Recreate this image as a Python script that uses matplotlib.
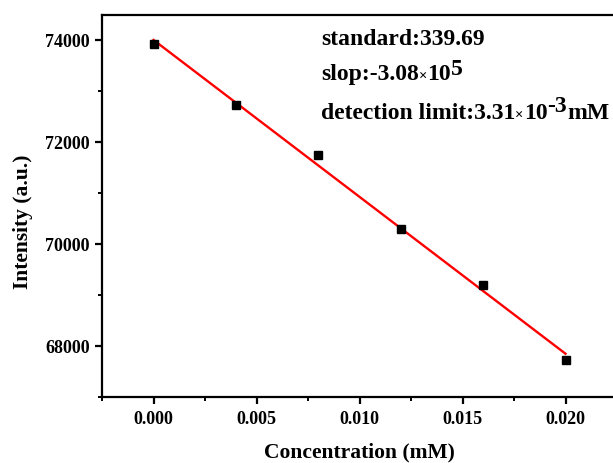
import numpy as np
import matplotlib.pyplot as plt
from matplotlib.ticker import MultipleLocator
from matplotlib.transforms import IdentityTransform

# measured points
conc = [0.000, 0.004, 0.008, 0.012, 0.016, 0.020]
intensity = [73925, 72725, 71755, 70290, 69195, 67730]

# linear fit shown on the chart
fit_slope = -3.08e5
fit_intercept = 74010

plt.rcParams['font.family'] = ['Liberation Serif', 'DejaVu Serif']
plt.rcParams['font.weight'] = 'bold'

W, H = 613, 463
fig = plt.figure(figsize=(W / 100, H / 100), dpi=100)
ax = fig.add_axes([102 / W, (H - 397) / H, (617 - 102) / W, (397 - 15) / H])

xs = np.array([conc[0], conc[-1]])
ax.plot(xs, fit_slope * xs + fit_intercept, color='#ff0000', lw=1.7, zorder=2)
ax.plot(conc, intensity, 's', color='black', ms=5.8, zorder=3)

ax.set_xlim(-0.0025, 0.0225)
ax.set_ylim(67000, 74500)
ax.xaxis.set_major_locator(MultipleLocator(0.005))
ax.xaxis.set_minor_locator(MultipleLocator(0.0025))
ax.yaxis.set_major_locator(MultipleLocator(2000))
ax.yaxis.set_minor_locator(MultipleLocator(1000))
ax.xaxis.set_major_formatter(lambda v, p: f"{v:.3f}")
ax.yaxis.set_major_formatter(lambda v, p: f"{v:.0f}")

for s in ax.spines.values():
    s.set_linewidth(1.6)
ax.tick_params(which='major', direction='out', length=5, width=1.6, labelsize=13)
ax.tick_params(which='minor', direction='out', length=3, width=1.4)
ax.tick_params(axis='x', pad=5)
ax.tick_params(axis='y', pad=4)

# axis titles, placed in pixels (top-left origin)
fig.text(359 / W, 1 - 457 / H, 'Concentration (mM)', fontsize=15.5,
         fontweight='bold', ha='center', va='baseline')
fig.text(23 / W, 1 - 222 / H, 'Intensity (a.u.)', fontsize=15.5,
         fontweight='bold', ha='center', va='center', rotation=90)

# annotation: pieces chained left to right so superscripts stay full size
renderer = fig.canvas.get_renderer()


def chain(x, y, parts):
    for s, size, dy in parts:
        t = fig.text(x, H - y + dy, s, fontsize=size, fontweight='bold',
                     ha='left', va='baseline', transform=IdentityTransform())
        x = t.get_window_extent(renderer).x1


main = 17
chain(321, 45, [('standard:339.69', main, 0)])
chain(321, 80, [('slop:-3.08', main, 0), ('\u00d7', 10.5, 0),
                ('10', main, 0), ('5', main, 5)])
chain(321, 119, [('detection limit:3.31', main, 0), ('\u00d7', 10.5, 0),
                 ('10', main, 0), ('-3', main, 7), ('mM', main, 0)])

fig.savefig('out.png', dpi=100)
